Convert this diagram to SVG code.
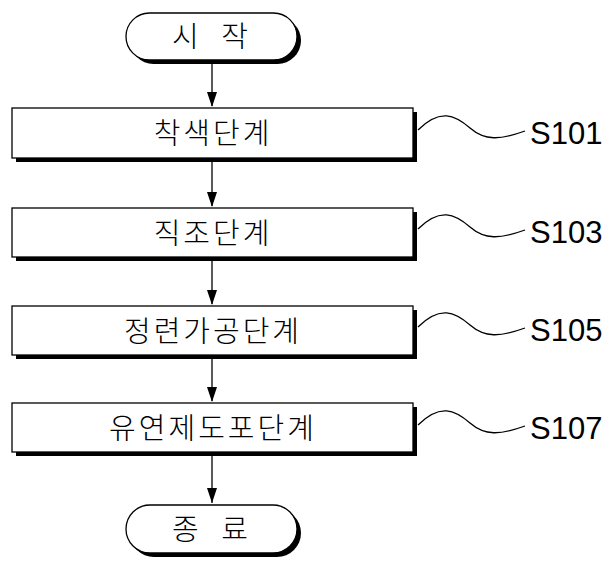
<svg xmlns="http://www.w3.org/2000/svg" width="616" height="567" viewBox="0 0 616 567">
<defs>
<style>
.b{fill:#fff;stroke:#000;stroke-width:1.3}
.s{fill:#000}
.t{font-family:"Noto Sans CJK KR","Liberation Sans",sans-serif;font-size:29px;font-weight:300;letter-spacing:3px;text-anchor:middle}
.w{letter-spacing:8px}
.l{font-family:"Liberation Sans",sans-serif;font-size:31px}
.c{stroke:#000;stroke-width:1.3;fill:none}
</style>
</defs>
<rect width="616" height="567" fill="#fff"/>
<g id="connectors">
<path class="c" d="M212,61 V106"/>
<path class="c" d="M212,162 V206"/>
<path class="c" d="M212,260 V304"/>
<path class="c" d="M212,359 V401"/>
<path class="c" d="M212,456 V503"/>
<path d="M207,92 L217,92 L212,107 z M207,192 L217,192 L212,207 z M207,290 L217,290 L212,305 z M207,387 L217,387 L212,402 z M207,488 L217,488 L212,503 z" fill="#000"/>
<path class="c" d="M418,130 C440,108 455,115 470,128 C485,141 500,140 525,131"/>
<path class="c" d="M418,229 C440,207 455,214 470,227 C485,240 500,239 525,230"/>
<path class="c" d="M418,327 C440,305 455,312 470,325 C485,338 500,337 525,328"/>
<path class="c" d="M418,425 C440,403 455,410 470,423 C485,436 500,435 525,426"/>
</g>
<g id="start">
<rect x="130" y="17" width="171" height="47" rx="23.5" class="s"/>
<rect x="126" y="13" width="171" height="47" rx="23.5" class="b"/>
<text x="214" y="47" class="t w">시 작</text>
</g>
<g id="s101">
<rect x="16" y="112" width="401" height="50" class="s"/>
<rect x="12" y="108" width="401" height="50" class="b"/>
<text x="213" y="144" class="t">착색단계</text>
<text x="530" y="144" class="l">S101</text>
</g>
<g id="s103">
<rect x="16" y="212" width="401" height="49" class="s"/>
<rect x="12" y="208" width="401" height="49" class="b"/>
<text x="213" y="244" class="t">직조단계</text>
<text x="530" y="243" class="l">S103</text>
</g>
<g id="s105">
<rect x="16" y="310" width="401" height="49" class="s"/>
<rect x="12" y="306" width="401" height="49" class="b"/>
<text x="213" y="342" class="t">정련가공단계</text>
<text x="530" y="341" class="l">S105</text>
</g>
<g id="s107">
<rect x="16" y="407" width="401" height="49" class="s"/>
<rect x="12" y="403" width="401" height="49" class="b"/>
<text x="213" y="439" class="t">유연제도포단계</text>
<text x="530" y="439" class="l">S107</text>
</g>
<g id="end">
<rect x="130" y="509" width="171" height="48" rx="24" class="s"/>
<rect x="126" y="505" width="171" height="48" rx="24" class="b"/>
<text x="214" y="540" class="t w">종 료</text>
</g>
</svg>
